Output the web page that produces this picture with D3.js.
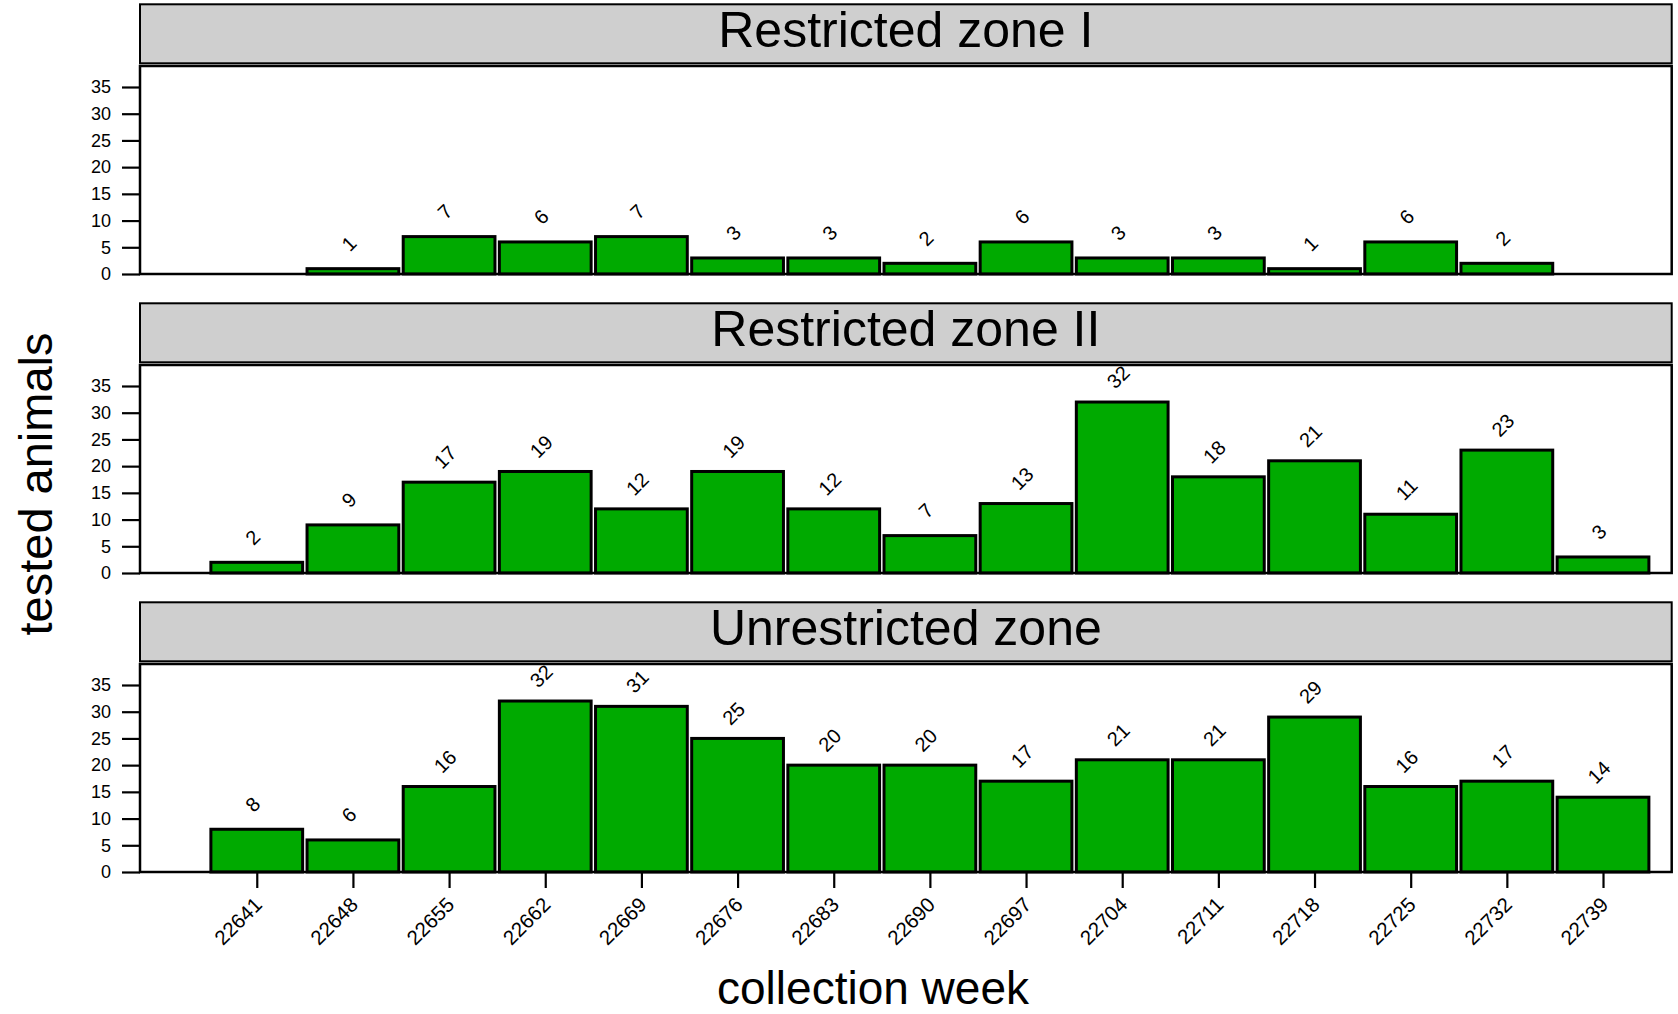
<!DOCTYPE html>
<html>
<head>
<meta charset="utf-8">
<script src="https://cdn.jsdelivr.net/npm/d3@7"></script>
<style>
  html, body { margin: 0; padding: 0; background: #ffffff; }
  svg { display: block; font-family: "Liberation Sans", Arial, Helvetica, sans-serif; }
</style>
</head>
<body>
<svg id="chart" width="1678" height="1014"></svg>
<script>
// ---- data ----
const weeks = [22641, 22648, 22655, 22662, 22669, 22676, 22683, 22690, 22697, 22704, 22711, 22718, 22725, 22732, 22739];
const zones = ["Restricted zone I", "Restricted zone II", "Unrestricted zone"];
const restrictedZoneI  = [0, 1, 7, 6, 7, 3, 3, 2, 6, 3, 3, 1, 6, 2, 0];
const restrictedZoneII = [2, 9, 17, 19, 12, 19, 12, 7, 13, 32, 18, 21, 11, 23, 3];
const unrestrictedZone = [8, 6, 16, 32, 31, 25, 20, 20, 17, 21, 21, 29, 16, 17, 14];
const yTicks = [0, 5, 10, 15, 20, 25, 30, 35];
const seriesByZone = [restrictedZoneI, restrictedZoneII, unrestrictedZone];

// ---- layout ----
const svg = d3.select("#chart");
const panelLeft = 140, panelRight = 1671.7;
const stripH = 59, panelOffset = 61.7, panelH = 208, period = 299;
const firstStripTop = 4.3;
const binWidth = 7;

const x = d3.scaleLinear().domain([22632.5, 22744]).range([panelLeft, panelRight]);
const step = x(weeks[0] + binWidth) - x(weeks[0]);

const fill = "#00aa00";
const stripFill = "#cfcfcf";

zones.forEach((zone, i) => {
  const stripTop = firstStripTop + period * i;
  const pTop = stripTop + panelOffset;
  const pBottom = pTop + panelH;
  const y = d3.scaleLinear().domain([0, 38.93]).range([pBottom, pTop]);

  // strip
  svg.append("rect")
    .attr("x", panelLeft).attr("y", stripTop)
    .attr("width", panelRight - panelLeft).attr("height", stripH)
    .attr("fill", stripFill).attr("stroke", "#000").attr("stroke-width", 2);
  svg.append("text")
    .attr("x", (panelLeft + panelRight) / 2).attr("y", stripTop + 43)
    .attr("text-anchor", "middle")
    .attr("font-size", 50).attr("fill", "#000")
    .text(zone);

  // panel background
  svg.append("rect")
    .attr("x", panelLeft).attr("y", pTop)
    .attr("width", panelRight - panelLeft).attr("height", panelH)
    .attr("fill", "#fff");

  const g = svg.append("g");
  const data = weeks.map((w, k) => ({ week: w, value: seriesByZone[i][k] })).filter(d => d.value > 0);

  g.selectAll("rect.bar").data(data).enter().append("rect")
    .attr("class", "bar")
    .attr("x", d => x(d.week - binWidth / 2) + 2.2)
    .attr("width", step - 4.4)
    .attr("y", d => y(d.value))
    .attr("height", d => y(0) - y(d.value))
    .attr("fill", fill)
    .attr("stroke", "#000").attr("stroke-width", 3);

  g.selectAll("text.val").data(data).enter().append("text")
    .attr("class", "val")
    .attr("transform", d => `translate(${x(d.week) - 4},${y(d.value) - 25}) rotate(-45)`)
    .attr("text-anchor", "middle")
    .attr("dominant-baseline", "central")
    .attr("font-size", 20).attr("fill", "#000")
    .text(d => d.value);

  // panel border
  svg.append("rect")
    .attr("x", panelLeft).attr("y", pTop)
    .attr("width", panelRight - panelLeft).attr("height", panelH)
    .attr("fill", "none").attr("stroke", "#000").attr("stroke-width", 2.5);

  // y axis
  const yAxis = svg.append("g")
    .attr("transform", `translate(${panelLeft},0)`)
    .call(d3.axisLeft(y).tickValues(yTicks).tickSize(18).tickPadding(11));
  yAxis.select(".domain").remove();
  yAxis.selectAll("line").attr("stroke", "#000").attr("stroke-width", 2.2);
  yAxis.selectAll("text").attr("font-size", 18).attr("fill", "#000")
    .attr("font-family", "Liberation Sans, Arial, Helvetica, sans-serif");

  if (i === zones.length - 1) {
    const xAxis = svg.append("g")
      .attr("transform", `translate(0,${pBottom})`)
      .call(d3.axisBottom(x).tickValues(weeks).tickFormat(d3.format("d")).tickSize(16));
    xAxis.select(".domain").remove();
    xAxis.selectAll("line").attr("stroke", "#000").attr("stroke-width", 2.2);
    xAxis.selectAll("text")
      .attr("font-size", 20.5).attr("fill", "#000")
      .attr("font-family", "Liberation Sans, Arial, Helvetica, sans-serif")
      .attr("text-anchor", "end")
      .attr("x", 0).attr("y", 0).attr("dy", 0)
      .attr("transform", "translate(6,34) rotate(-45)");
  }
});

// axis titles
svg.append("text")
  .attr("transform", "translate(51.5,484) rotate(-90)")
  .attr("text-anchor", "middle")
  .attr("font-size", 47).attr("fill", "#000")
  .text("tested animals");

svg.append("text")
  .attr("x", 873).attr("y", 1004)
  .attr("text-anchor", "middle")
  .attr("font-size", 46).attr("fill", "#000")
  .text("collection week");
</script>
</body>
</html>
